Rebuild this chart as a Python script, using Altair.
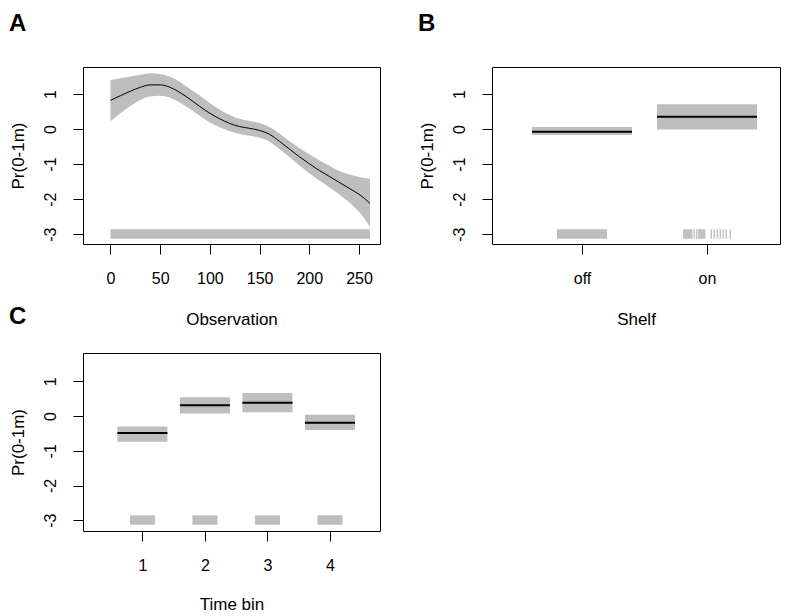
import json
import altair as alt
import pandas as pd

# ---------------- Panel A : Observation (smooth term) ----------------
obs_x = [0, 10, 20, 30, 40, 50, 60, 70, 80, 90, 100, 110, 120, 130, 140,
         150, 160, 170, 180, 190, 200, 210, 220, 230, 240, 250, 261]
obs_fit = [0.82, 0.95, 1.08, 1.19, 1.26, 1.26, 1.19, 1.04, 0.85, 0.64, 0.45,
           0.29, 0.16, 0.07, 0.02, -0.04, -0.15, -0.35, -0.57, -0.79, -0.99,
           -1.18, -1.35, -1.52, -1.69, -1.86, -2.12]
obs_upper = [1.40, 1.45, 1.50, 1.55, 1.59, 1.57, 1.49, 1.34, 1.14, 0.95, 0.74,
             0.55, 0.40, 0.29, 0.23, 0.17, 0.06, -0.13, -0.34, -0.54, -0.72,
             -0.89, -1.04, -1.20, -1.29, -1.37, -1.42]
obs_lower = [0.22, 0.45, 0.66, 0.83, 0.93, 0.95, 0.89, 0.75, 0.57, 0.37, 0.19,
             0.05, -0.06, -0.14, -0.19, -0.25, -0.36, -0.57, -0.80, -1.04,
             -1.26, -1.47, -1.66, -1.86, -2.09, -2.36, -2.79]
obs_ticks = [0, 50, 100, 150, 200, 250]
obs_rug_start = [0]
obs_rug_end = [261]

# ---------------- Panel B : Shelf (factor term) ----------------
shelf_labels = ["off", "on"]
shelf_pos = [1, 2]
shelf_fit = [-0.08, 0.35]
shelf_upper = [0.06, 0.71]
shelf_lower = [-0.17, -0.01]
shelf_off_rug_start = [0.80]
shelf_off_rug_end = [1.20]
shelf_on_rug = [1.814, 1.822, 1.830, 1.838, 1.846, 1.854, 1.862, 1.870, 1.878,
                1.898, 1.918, 1.934, 1.942, 1.950, 1.958, 1.966, 1.974, 1.982,
                2.034, 2.058, 2.082, 2.106, 2.130, 2.154, 2.186]

# ---------------- Panel C : Time bin (factor term) ----------------
bin_pos = [1, 2, 3, 4]
bin_fit = [-0.49, 0.31, 0.38, -0.19]
bin_upper = [-0.30, 0.54, 0.66, 0.04]
bin_lower = [-0.74, 0.07, 0.11, -0.40]

# shared
y_ticks = [-3, -2, -1, 0, 1]
rug_top = -2.86
rug_bottom = -3.13

GRAY = "#BEBEBE"
FONT = "Liberation Sans"

def y_enc(field, domain):
    return alt.Y(field, type="quantitative",
                 scale=alt.Scale(domain=domain, nice=False, zero=False),
                 axis=alt.Axis(values=y_ticks, title="Pr(0-1m)",
                               labelExpr="'' + datum.value"))

def panel_title(letter, offset, dx=0):
    return alt.TitleParams(letter, anchor="start", frame="bounds", fontSize=24,
                           fontWeight="bold", font=FONT, color="black",
                           offset=offset, dx=dx)

# ---- A ----
dfA = pd.DataFrame({"x": obs_x, "fit": obs_fit, "upper": obs_upper, "lower": obs_lower})
rugA = pd.DataFrame({"start": obs_rug_start, "end": obs_rug_end,
                     "top": [rug_top], "bottom": [rug_bottom]})
xA = alt.X("x:Q", scale=alt.Scale(domain=[-27.6, 271.1], nice=False, zero=False),
           axis=alt.Axis(values=obs_ticks, title="Observation"))
yA_dom = [-3.28, 1.77]
bandA = alt.Chart(dfA).mark_area(color=GRAY, interpolate="monotone").encode(
    x=xA, y=y_enc("lower", yA_dom), y2="upper:Q")
lineA = alt.Chart(dfA).mark_line(color="black", strokeWidth=1, interpolate="monotone").encode(
    x=xA, y=y_enc("fit", yA_dom))
rugAc = alt.Chart(rugA).mark_rect(color=GRAY).encode(
    x=alt.X("start:Q", scale=alt.Scale(domain=[-27.6, 271.1], nice=False, zero=False)),
    x2="end:Q", y=y_enc("top", yA_dom), y2="bottom:Q")
chartA = alt.layer(bandA, rugAc, lineA).properties(
    width=297, height=177, title=panel_title("A", 31))

# ---- B ----
dfB = pd.DataFrame({"pos": shelf_pos, "fit": shelf_fit, "upper": shelf_upper,
                    "lower": shelf_lower})
xB_scale = alt.Scale(domain=[0.28, 2.584], nice=False, zero=False)
label_expr_B = json.dumps(shelf_labels) + "[datum.value - 1]"
xB_axis = alt.Axis(values=shelf_pos, title="Shelf", labelExpr=label_expr_B)
yB_dom = [-3.28, 1.77]
baseB = alt.Chart(dfB).transform_calculate(
    x_lo="datum.pos - 0.4", x_hi="datum.pos + 0.4")
boxB = baseB.mark_rect(color=GRAY).encode(
    x=alt.X("x_lo:Q", scale=xB_scale, axis=xB_axis), x2="x_hi:Q",
    y=y_enc("lower", yB_dom), y2="upper:Q")
lineB = baseB.mark_rule(color="black", strokeWidth=2).encode(
    x=alt.X("x_lo:Q", scale=xB_scale), x2="x_hi:Q", y=y_enc("fit", yB_dom))
rugBoff = alt.Chart(pd.DataFrame({"start": shelf_off_rug_start, "end": shelf_off_rug_end,
                                  "top": [rug_top], "bottom": [rug_bottom]})).mark_rect(
    color=GRAY).encode(x=alt.X("start:Q", scale=xB_scale), x2="end:Q",
                       y=y_enc("top", yB_dom), y2="bottom:Q")
rugBon = alt.Chart(pd.DataFrame({"x": shelf_on_rug, "top": rug_top,
                                 "bottom": rug_bottom})).mark_rule(
    color=GRAY, strokeWidth=1.3).encode(x=alt.X("x:Q", scale=xB_scale),
                                         y=y_enc("top", yB_dom), y2="bottom:Q")
chartB = alt.layer(boxB, rugBoff, rugBon, lineB).properties(
    width=288, height=177, title=panel_title("B", 31))

# ---- C ----
dfC = pd.DataFrame({"pos": bin_pos, "fit": bin_fit, "upper": bin_upper,
                    "lower": bin_lower, "top": rug_top, "bottom": rug_bottom})
xC_scale = alt.Scale(domain=[0.05, 4.8], nice=False, zero=False)
xC_axis = alt.Axis(values=bin_pos, title="Time bin", labelExpr="'' + datum.value",
                   titlePadding=23)
yC_dom = [-3.31, 1.815]
baseC = alt.Chart(dfC).transform_calculate(
    x_lo="datum.pos - 0.4", x_hi="datum.pos + 0.4",
    r_lo="datum.pos - 0.2", r_hi="datum.pos + 0.2")
boxC = baseC.mark_rect(color=GRAY).encode(
    x=alt.X("x_lo:Q", scale=xC_scale, axis=xC_axis), x2="x_hi:Q",
    y=y_enc("lower", yC_dom), y2="upper:Q")
rugC = baseC.mark_rect(color=GRAY).encode(
    x=alt.X("r_lo:Q", scale=xC_scale), x2="r_hi:Q",
    y=y_enc("top", yC_dom), y2="bottom:Q")
lineC = baseC.mark_rule(color="black", strokeWidth=2).encode(
    x=alt.X("x_lo:Q", scale=xC_scale), x2="x_hi:Q", y=y_enc("fit", yC_dom))
chartC = alt.layer(boxC, rugC, lineC).properties(
    width=297, height=178, title=panel_title("C", 24))

chart = alt.vconcat(
    alt.hconcat(chartA, chartB, spacing=36),
    chartC, spacing=-24
).properties(
    padding={"top": 3, "left": 0, "right": 0, "bottom": 0}
).configure_view(
    stroke="black", strokeWidth=1
).configure_axis(
    domain=False, grid=False, tickColor="black", tickSize=10, tickWidth=1,
    labelFont=FONT, labelFontSize=16, labelColor="black",
    titleFont=FONT, titleFontSize=17, titleFontWeight="normal", titleColor="black",
    labelFlush=False, labelOverlap=False, labelBound=False
).configure_axisX(
    labelPadding=16, titlePadding=25
).configure_axisY(
    labelAngle=270, labelAlign="center", labelBaseline="alphabetic",
    labelPadding=18, titlePadding=15
)

chart.save("out.html", embed_options={"renderer": "svg", "actions": False})
